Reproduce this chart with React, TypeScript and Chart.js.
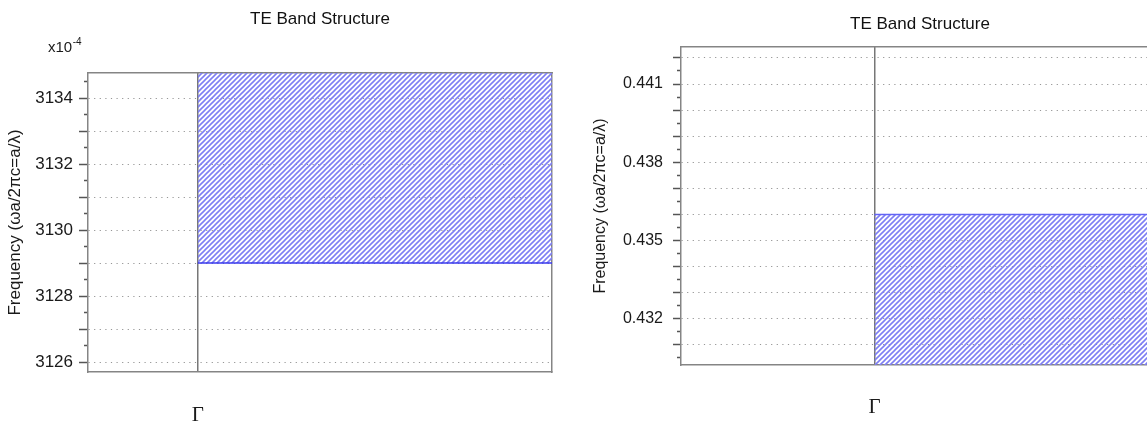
import React, { useEffect, useRef } from 'react';
import { Chart, registerables } from 'chart.js';

Chart.register(...registerables);

// ---------- data ----------
const chartTitle = 'TE Band Structure';
const yAxisTitle = 'Frequency (ωa/2πc=a/λ)';
const kPointPositions = [0];
const kPointLabels = ['Γ'];

// left panel (values in units of 1e-4)
const leftExponent = -4;
const leftXRange = [-0.31, 1.0];
const leftYRange = [3125.7, 3134.76];
const leftBandX = [0, 1.0];
const leftBandY = [3129, 3129];
const leftTickLabels = [3126, 3128, 3130, 3132, 3134];
const leftMinorStep = 0.5;
const leftMajorStep = 1;

// right panel
const rightXRange = [-0.68, 1.0];
const rightYRange = [0.43023, 0.44242];
const rightBandX = [0, 1.0];
const rightBandY = [0.436, 0.436];
const rightTickLabels = [0.432, 0.435, 0.438, 0.441];
const rightMinorStep = 0.0005;
const rightMajorStep = 0.001;

const SANS = '"Liberation Sans", Arial, sans-serif';
const SERIF = '"Liberation Serif", "Times New Roman", serif';

function makeHatch(): CanvasPattern | string {
  const s = 5;
  const c = document.createElement('canvas');
  c.width = s;
  c.height = s;
  const g = c.getContext('2d');
  if (!g) return 'rgba(110,110,240,0.5)';
  g.strokeStyle = '#7e7ef4';
  g.lineWidth = 1.6;
  g.beginPath();
  g.moveTo(0, s);
  g.lineTo(s, 0);
  g.moveTo(-1, 1);
  g.lineTo(1, -1);
  g.moveTo(s - 1, s + 1);
  g.lineTo(s + 1, s - 1);
  g.stroke();
  return g.createPattern(c, 'repeat') || 'rgba(110,110,240,0.5)';
}

const exponentPlugin = {
  id: 'exponentLabel',
  afterDraw(chart: any) {
    const { ctx, chartArea } = chart;
    ctx.save();
    ctx.fillStyle = '#1a1a1a';
    ctx.textBaseline = 'alphabetic';
    ctx.textAlign = 'left';
    ctx.font = `15px ${SANS}`;
    const base = 'x10';
    const x0 = 48;
    const y0 = chartArea.top - 21;
    ctx.fillText(base, x0, y0);
    const w = ctx.measureText(base).width;
    ctx.font = `10px ${SANS}`;
    ctx.fillText(String(leftExponent), x0 + w + 0.5, y0 - 7);
    ctx.restore();
  },
};

type Spec = {
  xRange: number[];
  yRange: number[];
  bandX: number[];
  bandY: number[];
  tickLabels: number[];
  labelDigits: number;
  minorStep: number;
  majorStep: number;
  fill: string;
  bandColor: string;
  padRight: number;
  leftW: number;
  bottomH: number;
  titleTop: number;
  titleBottom: number;
  tickFont: number;
  tickLen: number;
  tickPad: number;
  yTitleFont: number;
  yTitlePad: number;
  gammaPad: number;
  exponent: boolean;
};

function buildConfig(p: Spec): any {
  const isMajor = (v: number) =>
    Math.abs(v / p.majorStep - Math.round(v / p.majorStep)) < 1e-6;
  const borderCol = '#858585';
  return {
    type: 'line',
    data: {
      datasets: [
        {
          data: p.bandX.map((x, i) => ({ x, y: p.bandY[i] })),
          borderColor: p.bandColor,
          borderWidth: 1.5,
          pointRadius: 0,
          fill: p.fill,
          backgroundColor: makeHatch(),
          tension: 0,
        },
      ],
    },
    options: {
      animation: false,
      responsive: false,
      layout: { padding: { left: 0, right: p.padRight, top: 0, bottom: 0 } },
      plugins: {
        legend: { display: false },
        tooltip: { enabled: false },
        title: {
          display: true,
          text: chartTitle,
          fullSize: false,
          color: '#111',
          font: { size: 17, weight: 'normal', family: SANS },
          padding: { top: p.titleTop, bottom: p.titleBottom },
        },
      },
      scales: {
        x: {
          type: 'linear',
          position: 'bottom',
          min: p.xRange[0],
          max: p.xRange[1],
          z: 1,
          afterFit: (s: any) => {
            s.height = p.bottomH;
          },
          afterBuildTicks: (s: any) => {
            s.ticks = kPointPositions.map((v) => ({ value: v }));
          },
          ticks: {
            autoSkip: false,
            maxRotation: 0,
            padding: p.gammaPad,
            color: '#1a1a1a',
            font: { family: SERIF, size: 21 },
            callback: (v: number) => {
              const i = kPointPositions.indexOf(v);
              return i >= 0 ? kPointLabels[i] : '';
            },
          },
          grid: { color: '#777777', lineWidth: 1.5, drawTicks: false },
          border: { color: borderCol, width: 1.5 },
        },
        xTop: {
          type: 'linear',
          position: 'top',
          afterFit: (s: any) => {
            s.height = 0;
          },
          ticks: { display: false },
          grid: { drawOnChartArea: false, drawTicks: false },
          border: { color: borderCol, width: 1.5 },
        },
        y: {
          type: 'linear',
          position: 'left',
          min: p.yRange[0],
          max: p.yRange[1],
          afterFit: (s: any) => {
            s.width = p.leftW;
          },
          ticks: {
            stepSize: p.minorStep,
            autoSkip: false,
            includeBounds: false,
            padding: p.tickPad,
            color: '#1a1a1a',
            font: { size: p.tickFont, family: SANS },
            callback: (v: number) => {
              const l = p.tickLabels.find((t) => Math.abs(t - v) < p.minorStep / 100);
              return l === undefined ? '' : l.toFixed(p.labelDigits);
            },
          },
          grid: {
            color: (ctx: any) =>
              ctx.tick && isMajor(ctx.tick.value) ? '#969696' : 'rgba(0,0,0,0)',
            lineWidth: 1,
            tickColor: '#555',
            tickWidth: 1.5,
            tickLength: p.tickLen,
            tickBorderDash: (ctx: any) =>
              ctx.tick && isMajor(ctx.tick.value) ? [] : [0, p.tickLen - 4, 4, 100],
          },
          border: { color: borderCol, width: 1.5, dash: [1.2, 4.4] },
          title: {
            display: true,
            text: yAxisTitle,
            color: '#1a1a1a',
            font: { size: p.yTitleFont, family: SANS },
            padding: { top: p.yTitlePad, bottom: 0 },
          },
        },
        yRight: {
          type: 'linear',
          position: 'right',
          afterFit: (s: any) => {
            s.width = 0;
          },
          ticks: { display: false },
          grid: { drawOnChartArea: false, drawTicks: false },
          border: { color: borderCol, width: 1.5 },
        },
      },
    },
    plugins: p.exponent ? [exponentPlugin] : [],
  };
}

const leftSpec: Spec = {
  xRange: leftXRange,
  yRange: leftYRange,
  bandX: leftBandX,
  bandY: leftBandY,
  tickLabels: leftTickLabels,
  labelDigits: 0,
  minorStep: leftMinorStep,
  majorStep: leftMajorStep,
  fill: 'end',
  bandColor: '#3a3aee',
  padRight: 18,
  leftW: 88,
  bottomH: 51,
  titleTop: 8.8,
  titleBottom: 43.8,
  tickFont: 17,
  tickLen: 9,
  tickPad: 6,
  yTitleFont: 17,
  yTitlePad: 4.8,
  gammaPad: 31,
  exponent: true,
};

const rightSpec: Spec = {
  xRange: rightXRange,
  yRange: rightYRange,
  bandX: rightBandX,
  bandY: rightBandY,
  tickLabels: rightTickLabels,
  labelDigits: 3,
  minorStep: rightMinorStep,
  majorStep: rightMajorStep,
  fill: 'start',
  bandColor: '#6464f5',
  padRight: 11,
  leftW: 111,
  bottomH: 58,
  titleTop: 13.8,
  titleBottom: 12.8,
  tickFont: 16,
  tickLen: 8,
  tickPad: 10,
  yTitleFont: 16,
  yTitlePad: 21.4,
  gammaPad: 30,
  exponent: false,
};

function Panel({ spec, left, width }: { spec: Spec; left: number; width: number }) {
  const ref = useRef<HTMLCanvasElement>(null);
  useEffect(() => {
    if (!ref.current) return;
    const chart = new Chart(ref.current, buildConfig(spec));
    return () => chart.destroy();
  }, [spec]);
  return (
    <canvas
      ref={ref}
      width={width}
      height={423}
      style={{ position: 'absolute', left, top: 0, width, height: 423 }}
    />
  );
}

export default function App() {
  return (
    <div
      style={{
        position: 'absolute',
        left: 0,
        top: 0,
        width: 1147,
        height: 423,
        overflow: 'hidden',
        background: '#ffffff',
      }}
    >
      <Panel spec={leftSpec} left={0} width={570} />
      <Panel spec={rightSpec} left={570} width={600} />
    </div>
  );
}
